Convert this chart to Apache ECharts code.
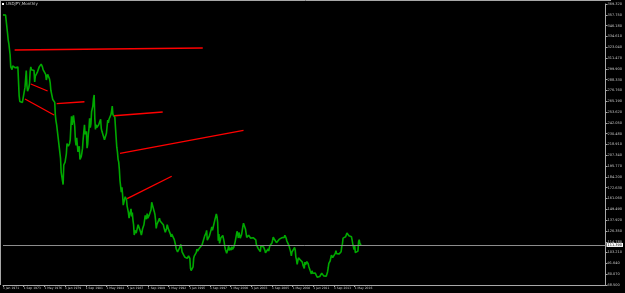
<!DOCTYPE html>
<html><head><meta charset="utf-8">
<script src="https://cdn.jsdelivr.net/npm/echarts@6/dist/echarts.min.js"></script>
<style>html,body{margin:0;padding:0;background:#000;}#c{width:625px;height:293px;}</style>
</head><body><div id="c"></div>
<script>
// Monthly closes USDJPY, Jan 1971 .. Apr 2017
const usdjpyClose = [
357.7,357.5,357.6,357.5,357.4,357.4,357.4,338.0,331.0,327.0,327.5,315.0,
302,303,299,303,302,301,301,301,301,301,301,302,
301,271,265,266,265,265,264,265,265,266,280,280,
298,282,276,278,280,284,297,302,299,299,300,300,
298,286,292,293,291,296,297,298,302,302,303,305,
303,302,299,299,299,297,294,288,287,294,295,293,
289,285,277,277,278,267,265,267,264,250,244,240,
241,239,222,223,224,204,189,189,189,176,197,195,
200,202,209,220,220,217,217,220,224,238,249,240,
238,250,248,238,223,218,226,218,211,211,217,203,
205,206,210,215,225,224,240,230,230,233,215,219,
230,236,247,237,241,254,257,260,268,272,247,235,
240,237,239,237,240,240,242,246,236,233,235,232,
234,224,225,225,231,238,245,242,246,246,245,251,
255,260,251,251,251,248,237,237,216,211,203,200,
192,180,179,168,173,165,154,154,154,163,162,160,
153,153,146,140,144,147,150,142,146,138,133,122,
127,129,124,125,125,133,133,135,134,125,122,125,
129,127,133,132,143,144,139,145,140,142,143,144,
145,149,157,159,152,152,147,144,138,129,133,135,
131,133,140,137,138,138,137,137,133,130,130,125,
127,129,133,133,128,126,127,123,120,123,124,125,
124,117,115,111,107,107,104,104,106,108,109,112,
109,104,103,102,104,98.5,100,100,99,97,99,99.7,
99,97,86.5,84,83,84.7,88,97.5,99.7,101.8,101.7,103.5,
107,104.8,106.5,104.8,108.2,109.8,106.8,108.7,111.5,114,113.7,115.8,
121,120.5,124,127,116.5,114.5,118.5,120.5,120.7,120.5,127.8,130.6,
127,126,133,132,139,138.7,144.5,141.6,135.7,116,123,113,
116,119,119,119.4,121.5,121,115,110,106.5,104.5,102.5,102.2,
107.3,110,105.5,108.3,107.6,106,109.5,106.7,108,108.9,110.5,114.4,
116.5,116.8,126,123.7,118.8,124.7,124.9,118.7,119.3,122.5,123.8,131,
134.7,133.5,132.7,128.5,124.1,119.5,119.8,118.4,121.8,122.5,122.4,118.7,
119.9,117.9,118.1,119.1,119.3,119.8,120.5,116.9,111.5,110,109.5,107.2,
105.8,109.1,104.2,110.4,109.5,108.8,111.3,109.3,110.1,105.8,103.1,102.6,
103.6,104.6,107.1,104.8,108.3,110.9,112.4,111.0,113.4,116.4,119.8,117.9,
117.2,115.8,117.8,113.8,112.4,114.4,114.6,117.3,118.1,116.8,115.7,119.0,
120.6,118.4,117.9,119.5,121.7,123.1,118.6,115.8,114.8,115.4,111.2,111.7,
106.4,103.7,99.7,103.9,105.5,106.2,107.9,108.8,106.1,98.4,95.5,90.6,
89.9,97.5,98.9,98.5,95.3,96.3,94.7,93.0,89.8,90.1,86.3,93.0,
90.3,89.0,93.5,94.0,91.3,88.4,86.5,84.2,83.5,80.4,83.7,81.1,
82.0,81.8,83.1,81.2,81.5,80.5,76.8,76.7,77.0,78.2,77.6,76.9,
76.2,81.2,82.9,80.0,78.3,79.8,78.1,78.4,77.9,79.8,82.5,86.7,
91.7,92.6,94.2,97.4,100.4,99.1,97.9,98.1,98.3,98.4,102.4,105.3,
102.0,101.8,103.2,102.2,101.8,101.3,102.8,104.1,109.6,112.3,118.7,119.8,
117.5,119.6,120.1,119.4,124.1,122.5,123.9,121.2,119.9,120.6,123.1,120.2,
121.1,112.7,112.6,106.5,110.7,103.2,102.1,103.4,101.3,104.8,114.5,117.0,
112.8,112.8,111.4,111.5
];
const monthNames = ['Jan','Feb','Mar','Apr','May','Jun','Jul','Aug','Sep','Oct','Nov','Dec'];
const xTickLabels = ['1 Jan 1971','1 Sep 1973','1 May 1976','1 Jan 1979','1 Sep 1981','1 May 1984','1 Jan 1987','1 Sep 1989','1 May 1992','1 Jan 1995','1 Sep 1997','1 May 2000','1 Jan 2003','1 Sep 2005','1 May 2008','1 Jan 2011','1 Sep 2013','1 May 2016'];
const lastPrice = 111.390;
// trend lines: [monthIndex, price] pairs
const trendLines = [
  [[18,320.1],[309,322.2]],
  [[43,283.7],[69,276.2]],
  [[34,267.6],[79,250.5]],
  [[83,262.6],[126,264.7]],
  [[172,249.7],[247,253.7]],
  [[181,209.5],[372,234.1]],
  [[192,160.9],[261,184.9]]
];
const yMin = 68.5, yInterval = 11.57, yMax = 68.5 + 26*11.57;
const totalMonths = 933;

const categories = [];
for (let i = 0; i < totalMonths; i++) {
  categories.push('1 ' + monthNames[i % 12] + ' ' + (1971 + Math.floor(i / 12)));
}
const showTick = (i) => i % 32 === 0 && (i / 32) < xTickLabels.length;

const series = [{
  type: 'line', data: usdjpyClose, symbol: 'none', silent: true,
  lineStyle: { color: '#00a800', width: 1.6 },
  markLine: {
    silent: true, symbol: 'none',
    lineStyle: { color: '#8c8c8c', width: 1, type: 'solid' },
    label: { show: true, position: 'end', distance: 1, formatter: lastPrice.toFixed(3),
      color: '#000', backgroundColor: '#fff', fontSize: 3.5, padding: [0, 1], fontFamily: 'DejaVu Sans' },
    data: [{ yAxis: lastPrice }]
  }
}];
trendLines.forEach(t => series.push({
  type: 'line', data: t, symbol: 'none', silent: true,
  lineStyle: { color: '#ff0000', width: 1.3 }
}));

const chart = echarts.init(document.getElementById('c'));
chart.setOption({
  backgroundColor: '#000',
  animation: false,
  grid: { left: 2, right: 14, top: 4, bottom: 8, containLabel: false },
  xAxis: {
    type: 'category', data: categories, boundaryGap: false,
    axisLine: { lineStyle: { color: '#a8a8a8', width: 1 } },
    axisTick: { show: true, length: 2, interval: (i) => showTick(i), lineStyle: { color: '#a8a8a8' } },
    axisLabel: { interval: (i) => showTick(i), formatter: (v, i) => xTickLabels[i / 32] || '',
      color: '#c8c8c8', fontSize: 3, align: 'left', margin: 1.5, fontFamily: 'DejaVu Sans', hideOverlap: false },
    splitLine: { show: false }
  },
  yAxis: {
    type: 'value', position: 'right', min: yMin, max: yMax, interval: yInterval,
    axisLine: { show: true, lineStyle: { color: '#a8a8a8', width: 1 } },
    axisTick: { show: true, length: 2, lineStyle: { color: '#a8a8a8' } },
    axisLabel: { formatter: v => v.toFixed(3), color: '#c8c8c8', fontSize: 3.5, margin: 2, fontFamily: 'DejaVu Sans' },
    splitLine: { show: false }
  },
  graphic: [
    { type: 'line', shape: { x1: 0, y1: 0.5, x2: 611, y2: 0.5 }, style: { stroke: '#a8a8a8', lineWidth: 1 } },
    { type: 'line', shape: { x1: 0.5, y1: 0, x2: 0.5, y2: 285 }, style: { stroke: '#a8a8a8', lineWidth: 1 } },
    { type: 'rect', shape: { x: 2, y: 3, width: 2, height: 2 }, style: { fill: '#fff' } },
    { type: 'text', left: 6, top: 2, style: { text: 'USDJPY,Monthly', fill: '#c8c8c8', fontSize: 4, fontFamily: 'DejaVu Sans' } }
  ],
  series: series
});
</script></body></html>
